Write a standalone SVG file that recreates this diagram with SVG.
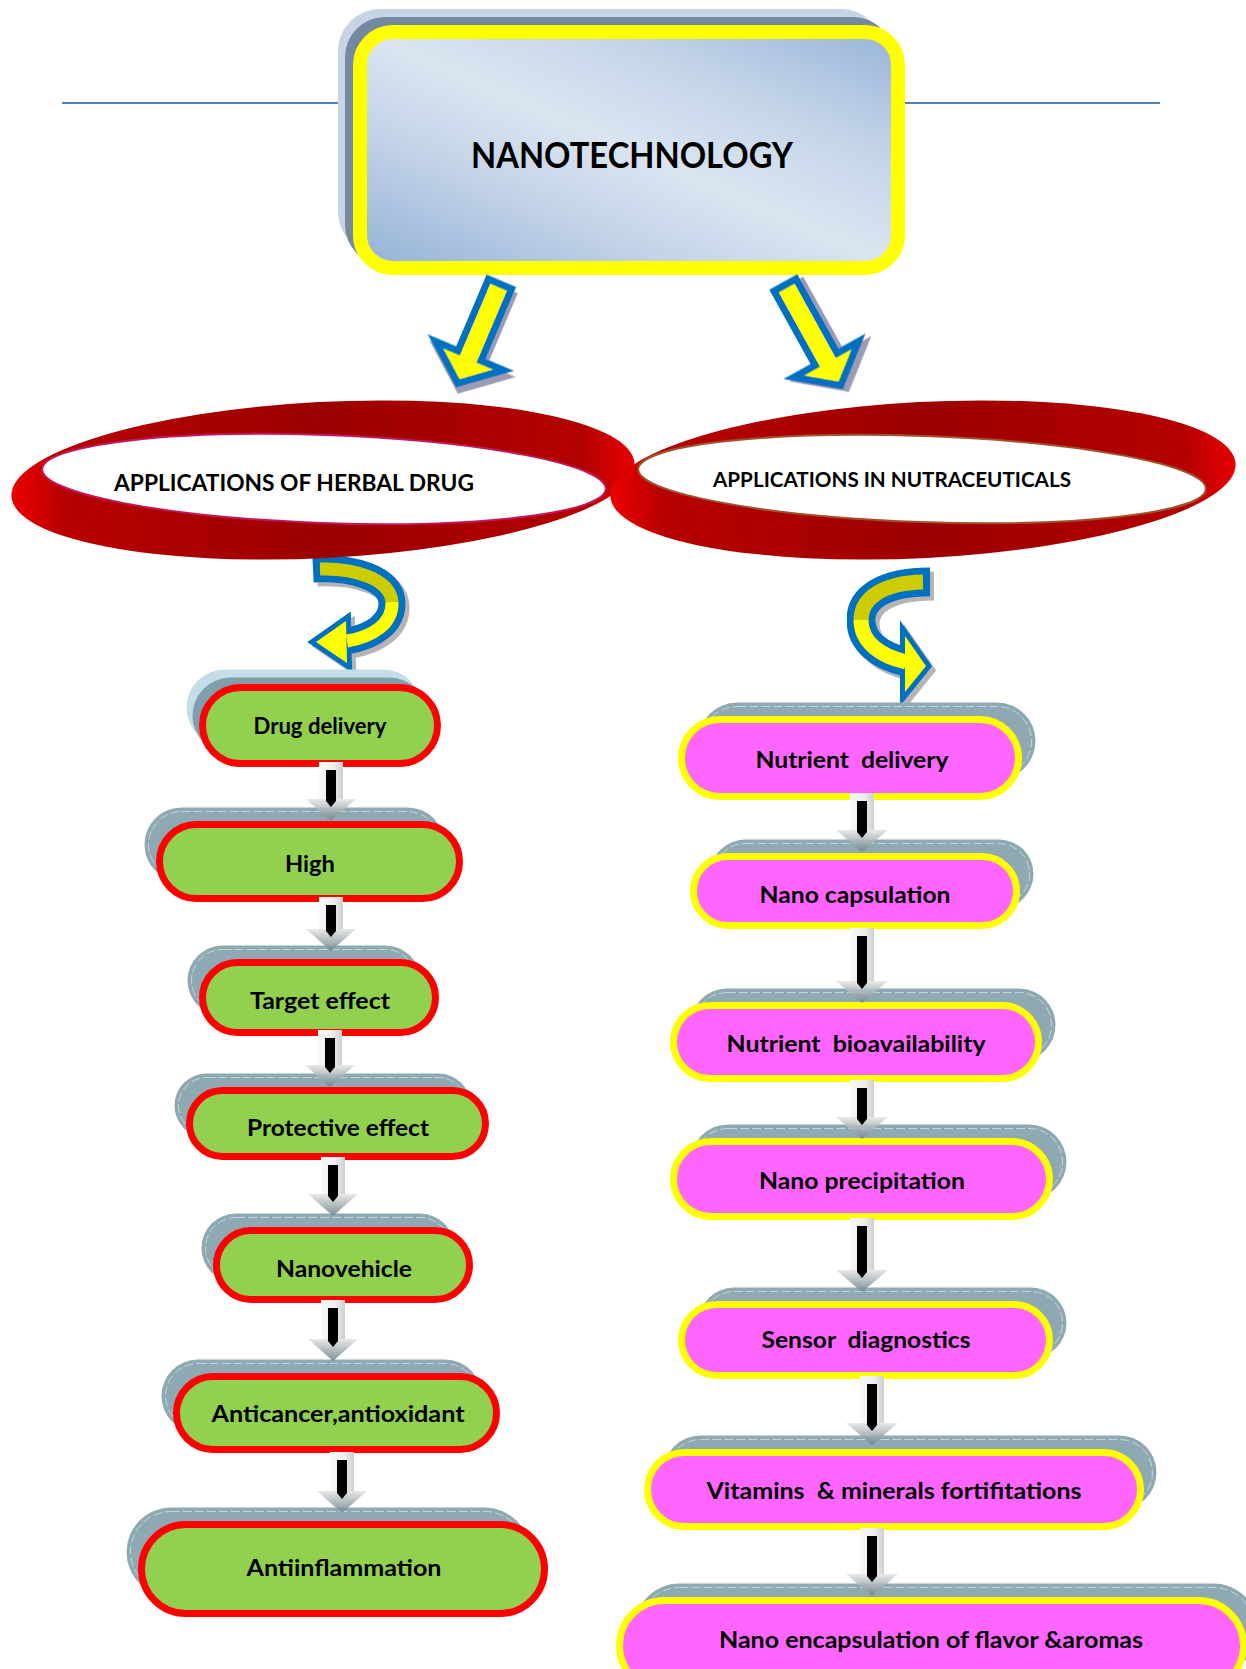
<svg xmlns="http://www.w3.org/2000/svg" width="1246" height="1669" viewBox="0 0 1246 1669">
<defs>
<style>
.t{font-family:Lato,"Liberation Sans",sans-serif;font-weight:700;fill:#000;text-anchor:middle;white-space:pre}
.lp{fill:#92d050;stroke:#ff0000;stroke-width:7}
.rp{fill:#ff66ff;stroke:#ffff00;stroke-width:7}
.sh{fill:#8ea9b2}
.shl{fill:none;stroke:#e8f0f2;stroke-width:1;stroke-dasharray:9 3;opacity:.6}
.ds{fill:url(#dsg)}
.dh{fill:url(#dhg)}
.db{fill:#000}
.blue{fill:#0070c0;stroke:#0070c0;stroke-width:10;stroke-linejoin:miter}
</style>
<linearGradient id="boxg" x1="0" y1="1" x2="1" y2="0">
<stop offset="0" stop-color="#93b1d6"/><stop offset="0.3" stop-color="#c3d3e8"/><stop offset="0.5" stop-color="#dbe5f1"/><stop offset="0.72" stop-color="#c5d5e9"/><stop offset="1" stop-color="#97b4d8"/>
</linearGradient>
<linearGradient id="rib" x1="0" y1="0" x2="1" y2="0">
<stop offset="0" stop-color="#ee0000"/><stop offset="0.08" stop-color="#b80000"/><stop offset="0.5" stop-color="#9c0000"/><stop offset="0.92" stop-color="#b40000"/><stop offset="1" stop-color="#e80000"/>
</linearGradient>
<linearGradient id="dsg" x1="0" y1="0" x2="1" y2="0">
<stop offset="0" stop-color="#f8f8f8"/><stop offset="0.6" stop-color="#eeeeee"/><stop offset="1" stop-color="#cfcfcf"/>
</linearGradient>
<linearGradient id="dhg" x1="0" y1="0" x2="0" y2="1">
<stop offset="0" stop-color="#e6e6e6" stop-opacity="0.9"/><stop offset="1" stop-color="#6f848c" stop-opacity="0.9"/>
</linearGradient>
<filter id="drop" x="-20%" y="-20%" width="150%" height="150%">
<feOffset in="SourceAlpha" dx="4" dy="5" result="o"/>
<feFlood flood-color="#9a9cb4"/>
<feComposite in2="o" operator="in"/>
<feMerge><feMergeNode/><feMergeNode in="SourceGraphic"/></feMerge>
</filter>
<filter id="drop2" x="-20%" y="-20%" width="150%" height="150%">
<feOffset in="SourceAlpha" dx="4" dy="4" result="o"/>
<feFlood flood-color="#b5b5b5"/>
<feComposite in2="o" operator="in"/>
<feMerge><feMergeNode/><feMergeNode in="SourceGraphic"/></feMerge>
</filter>
</defs>
<rect width="1246" height="1669" fill="#fff"/>

<line x1="62" y1="103" x2="1160" y2="103" stroke="#4f81bd" stroke-width="2"/>

<g id="nanotechnology">
<rect x="338" y="9" width="545" height="245" rx="42" fill="#c6d4e4"/>
<rect x="345" y="17" width="548" height="248" rx="40" fill="#74899f"/>
<rect x="360" y="32" width="538" height="236" rx="33" fill="url(#boxg)" stroke="#ffff00" stroke-width="14"/>
<text class="t" x="632" y="168" font-size="36" textLength="322" lengthAdjust="spacingAndGlyphs">NANOTECHNOLOGY</text>
</g>

<g id="connectors">
<g filter="url(#drop)" transform="translate(500,284) rotate(23)">
<path d="M-12.5,0 H12.5 V78 H37 L0,108 L-37,78 H-12.5 Z" fill="#ffff00" stroke="#0070c0" stroke-width="7" stroke-linejoin="miter"/>
</g>
<g filter="url(#drop)" transform="translate(785,285) rotate(-29)">
<path d="M-12.5,0 H12.5 V85 H37 L0,115 L-37,85 H-12.5 Z" fill="#ffff00" stroke="#0070c0" stroke-width="7" stroke-linejoin="miter"/>
</g>

<g id="curve-left" filter="url(#drop2)">
<polygon class="blue" points="316,642 346,621 347,663"/>
<path d="M313,569 C352,567 390,578 392,602 C393,624 372,637 347,641" fill="none" stroke="#0070c0" stroke-width="27"/>
<path d="M320,569 C355,568 390,579 392,602" fill="none" stroke="#cccc00" stroke-width="13"/>
<path d="M392,602 C393,624 372,637 347,641" fill="none" stroke="#ffff00" stroke-width="13"/>
<polygon points="316,642 346,621 347,663" fill="#ffff00"/>
</g>
<g id="curve-right" filter="url(#drop2)">
<polygon class="blue" points="926,666 905,636 905,692"/>
<path d="M930,582 C885,582 861,597 861,620 C861,642 880,656 906,662" fill="none" stroke="#0070c0" stroke-width="29"/>
<path d="M923,582 C883,583 861,598 861,620" fill="none" stroke="#cccc00" stroke-width="15"/>
<path d="M861,620 C861,642 880,656 906,662" fill="none" stroke="#ffff00" stroke-width="15"/>
<polygon points="926,666 905,636 905,692" fill="#ffff00"/>
</g>
</g>

<g id="herbal">
<ellipse cx="323" cy="480" rx="312" ry="78" fill="url(#rib)" transform="rotate(-3 323 480)"/>
<ellipse cx="324" cy="479" rx="282" ry="44" fill="#fff" stroke="#c2185b" stroke-width="2" transform="rotate(2 324 479)"/>
<text class="t" x="294" y="491" font-size="23" textLength="360" lengthAdjust="spacingAndGlyphs">APPLICATIONS OF HERBAL DRUG</text>
</g>
<g id="nutraceuticals">
<ellipse cx="923" cy="480" rx="313" ry="78" fill="url(#rib)" transform="rotate(-3 923 480)"/>
<ellipse cx="922" cy="479" rx="284" ry="43" fill="#fff" stroke="#a0522d" stroke-width="2" transform="rotate(2 922 479)"/>
<text class="t" x="892" y="487" font-size="21" textLength="358" lengthAdjust="spacingAndGlyphs">APPLICATIONS IN NUTRACEUTICALS</text>
</g>

<g id="drug-delivery">
<rect x="186.5" y="669.5" width="235" height="76" rx="38" fill="#c4dde6"/>
<rect x="192.5" y="677.5" width="235" height="76" rx="38" fill="#7f9fac"/>
<rect class="lp" x="202.5" y="687.5" width="235" height="76" rx="38"/>
<text class="t" x="320" y="734" font-size="23" textLength="133" lengthAdjust="spacingAndGlyphs">Drug delivery</text>
</g>
<g id="high">
<rect class="sh" x="144.5" y="807.5" width="300" height="74" rx="37"/>
<rect class="shl" x="148.5" y="811.5" width="292" height="66" rx="33"/>
<rect class="lp" x="159.5" y="824.5" width="300" height="74" rx="37"/>
<text class="t" x="310" y="872" font-size="23" textLength="50" lengthAdjust="spacingAndGlyphs">High</text>
</g>
<g id="target-effect">
<rect class="sh" x="187.5" y="945.5" width="233" height="70" rx="35"/>
<rect class="shl" x="191.5" y="949.5" width="225" height="62" rx="31"/>
<rect class="lp" x="202.5" y="962.5" width="233" height="70" rx="35"/>
<text class="t" x="320" y="1009" font-size="23" textLength="140" lengthAdjust="spacingAndGlyphs">Target effect</text>
</g>
<g id="protective-effect">
<rect class="sh" x="174.5" y="1073.5" width="296" height="64" rx="32"/>
<rect class="shl" x="178.5" y="1077.5" width="288" height="56" rx="28"/>
<rect class="lp" x="189.5" y="1090.5" width="296" height="66" rx="33"/>
<text class="t" x="338" y="1136" font-size="23" textLength="182" lengthAdjust="spacingAndGlyphs">Protective effect</text>
</g>
<g id="nanovehicle">
<rect class="sh" x="201.5" y="1213.5" width="253" height="69" rx="34.5"/>
<rect class="shl" x="205.5" y="1217.5" width="245" height="61" rx="30.5"/>
<rect class="lp" x="216.5" y="1230.5" width="253" height="69" rx="34.5"/>
<text class="t" x="344" y="1277" font-size="23" textLength="136" lengthAdjust="spacingAndGlyphs">Nanovehicle</text>
</g>
<g id="anticancer">
<rect class="sh" x="161.5" y="1359.5" width="320" height="73" rx="36.5"/>
<rect class="shl" x="165.5" y="1363.5" width="312" height="65" rx="32.5"/>
<rect class="lp" x="176.5" y="1376.5" width="320" height="73" rx="36.5"/>
<text class="t" x="338" y="1422" font-size="23" textLength="253" lengthAdjust="spacingAndGlyphs">Anticancer,antioxidant</text>
</g>
<g id="antiinflammation">
<rect class="sh" x="126.5" y="1507.5" width="403" height="89" rx="44.5"/>
<rect class="shl" x="130.5" y="1511.5" width="395" height="81" rx="40.5"/>
<rect class="lp" x="141.5" y="1524.5" width="403" height="89" rx="44.5"/>
<text class="t" x="344" y="1576" font-size="23" textLength="195" lengthAdjust="spacingAndGlyphs">Antiinflammation</text>
</g>

<g id="nutrient-delivery">
<rect class="sh" x="698.5" y="702.5" width="337" height="77" rx="38.5"/>
<rect class="shl" x="702.5" y="706.5" width="329" height="69" rx="34.5"/>
<rect class="rp" x="681.5" y="719.5" width="337" height="77" rx="38.5"/>
<text class="t" x="852" y="768" font-size="23" textLength="193" lengthAdjust="spacingAndGlyphs">Nutrient  delivery</text>
</g>
<g id="nano-capsulation">
<rect class="sh" x="710.5" y="839.5" width="323" height="69" rx="34.5"/>
<rect class="shl" x="714.5" y="843.5" width="315" height="61" rx="30.5"/>
<rect class="rp" x="693.5" y="856.5" width="323" height="69" rx="34.5"/>
<text class="t" x="855" y="903" font-size="23" textLength="191" lengthAdjust="spacingAndGlyphs">Nano capsulation</text>
</g>
<g id="nutrient-bioavailability">
<rect class="sh" x="690.5" y="988.5" width="365" height="73" rx="36.5"/>
<rect class="shl" x="694.5" y="992.5" width="357" height="65" rx="32.5"/>
<rect class="rp" x="673.5" y="1005.5" width="365" height="73" rx="36.5"/>
<text class="t" x="856" y="1052" font-size="23" textLength="259" lengthAdjust="spacingAndGlyphs">Nutrient  bioavailability</text>
</g>
<g id="nano-precipitation">
<rect class="sh" x="690.5" y="1124.5" width="376" height="75" rx="37.5"/>
<rect class="shl" x="694.5" y="1128.5" width="368" height="67" rx="33.5"/>
<rect class="rp" x="673.5" y="1141.5" width="376" height="75" rx="37.5"/>
<text class="t" x="862" y="1189" font-size="23" textLength="206" lengthAdjust="spacingAndGlyphs">Nano precipitation</text>
</g>
<g id="sensor-diagnostics">
<rect class="sh" x="698.5" y="1287.5" width="368" height="71" rx="35.5"/>
<rect class="shl" x="702.5" y="1291.5" width="360" height="63" rx="31.5"/>
<rect class="rp" x="681.5" y="1304.5" width="368" height="71" rx="35.5"/>
<text class="t" x="866" y="1348" font-size="23" textLength="209" lengthAdjust="spacingAndGlyphs">Sensor  diagnostics</text>
</g>
<g id="vitamins">
<rect class="sh" x="663.5" y="1435.5" width="493" height="74" rx="37"/>
<rect class="shl" x="667.5" y="1439.5" width="485" height="66" rx="33"/>
<rect class="rp" x="647.5" y="1452.5" width="493" height="74" rx="37"/>
<text class="t" x="894" y="1499" font-size="23" textLength="375" lengthAdjust="spacingAndGlyphs">Vitamins  &amp; minerals fortifitations</text>
</g>
<g id="nano-encapsulation">
<rect class="sh" x="634.5" y="1583.5" width="624" height="90" rx="45"/>
<rect class="shl" x="638.5" y="1587.5" width="616" height="82" rx="41"/>
<rect class="rp" x="619.5" y="1600.5" width="624" height="90" rx="45"/>
<text class="t" x="931" y="1648" font-size="23" textLength="424" lengthAdjust="spacingAndGlyphs">Nano encapsulation of flavor &amp;aromas</text>
</g>

<g id="flow-connectors">
<rect class="ds" x="319" y="762" width="24" height="37"/><polygon class="dh" points="306,799 356,799 331,821"/><path class="db" d="M326,770 H336 V801 L331,807 L326,801 Z"/>
<rect class="ds" x="319" y="897" width="24" height="32"/><polygon class="dh" points="306,929 356,929 331,951"/><path class="db" d="M326,905 H336 V931 L331,937 L326,931 Z"/>
<rect class="ds" x="318" y="1030" width="24" height="35"/><polygon class="dh" points="305,1065 355,1065 330,1087"/><path class="db" d="M325,1038 H335 V1067 L330,1073 L325,1067 Z"/>
<rect class="ds" x="321" y="1157" width="24" height="37"/><polygon class="dh" points="308,1194 358,1194 333,1216"/><path class="db" d="M328,1165 H338 V1196 L333,1202 L328,1196 Z"/>
<rect class="ds" x="321" y="1300" width="24" height="39"/><polygon class="dh" points="308,1339 358,1339 333,1361"/><path class="db" d="M328,1308 H338 V1341 L333,1347 L328,1341 Z"/>
<rect class="ds" x="330" y="1452" width="24" height="39"/><polygon class="dh" points="317,1491 367,1491 342,1513"/><path class="db" d="M337,1460 H347 V1493 L342,1499 L337,1493 Z"/>
<rect class="ds" x="850" y="793" width="24" height="37"/><polygon class="dh" points="836,830 888,830 862,852"/><path class="db" d="M857,801 H867 V832 L862,838 L857,832 Z"/>
<rect class="ds" x="850" y="928" width="24" height="53"/><polygon class="dh" points="836,981 888,981 862,1003"/><path class="db" d="M857,936 H867 V983 L862,989 L857,983 Z"/>
<rect class="ds" x="850" y="1080" width="24" height="37"/><polygon class="dh" points="836,1117 888,1117 862,1139"/><path class="db" d="M857,1088 H867 V1119 L862,1125 L857,1119 Z"/>
<rect class="ds" x="850" y="1218" width="24" height="52"/><polygon class="dh" points="836,1270 888,1270 862,1292"/><path class="db" d="M857,1226 H867 V1272 L862,1278 L857,1272 Z"/>
<rect class="ds" x="860" y="1376" width="24" height="47"/><polygon class="dh" points="846,1423 898,1423 872,1445"/><path class="db" d="M867,1384 H877 V1425 L872,1431 L867,1425 Z"/>
<rect class="ds" x="860" y="1528" width="24" height="46"/><polygon class="dh" points="846,1574 898,1574 872,1596"/><path class="db" d="M867,1536 H877 V1576 L872,1582 L867,1576 Z"/>
</g>
</svg>
